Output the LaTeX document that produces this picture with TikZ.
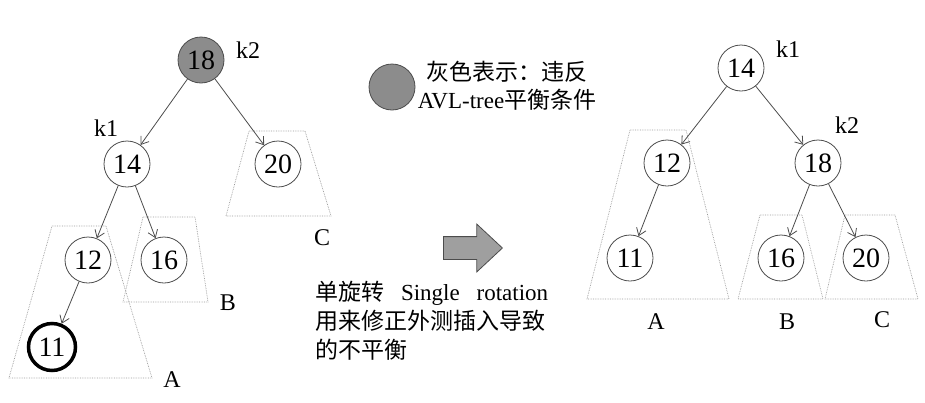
\documentclass[tikz,border=0pt]{standalone}
\usepackage{fontspec}
\setmainfont{Liberation Serif}
\newfontfamily\cjk{Noto Sans CJK SC}
\usepackage{tikz}
\usetikzlibrary{shapes.arrows,arrows.meta}
\usepackage{xcolor}
\definecolor{badgray}{gray}{0.55}
\definecolor{linegray}{gray}{0.3}
\definecolor{boxgray}{gray}{0.6}

\begin{document}
\begin{tikzpicture}
  [x=1pt,y=-1pt,
   key/.style={circle,draw=linegray,line width=0.8pt,minimum size=46pt,inner sep=0pt,
     font=\fontsize{28}{28}\selectfont},
   bad/.style={key,fill=badgray},
   newkey/.style={key,draw=black,line width=3.5pt,minimum size=47pt},
   lab/.style={inner sep=0pt,font=\fontsize{24}{24}\selectfont},
   link/.style={draw=linegray,line width=0.8pt,-{Straight Barb[length=7pt,width=10pt]}},
   subtree/.style={draw=boxgray,densely dotted,line width=0.7pt},
   bigarrow/.style={single arrow,draw=linegray,fill=gray!75,line width=0.8pt,
     minimum height=59pt,inner xsep=0pt,inner ysep=11pt,single arrow head extend=12.5pt,
     single arrow tip angle=86},
  ]
  \useasboundingbox (0,0) rectangle (925,402);

  % before the rotation
  \draw[subtree] (249,131) -- (305,131) -- (331,216) -- (226,216) -- cycle;
  \draw[subtree] (143,217) -- (195,217) -- (208,302) -- (123,302) -- cycle;
  \draw[subtree] (52,226) -- (106,226) -- (152,378) -- (9,378) -- cycle;

  \node[bad] (l18) at (201,60)  {18};
  \node[key] (l14) at (127,164) {14};
  \node[key] (l20) at (278,164) {20};
  \node[key] (l12) at (88,260)  {12};
  \node[key] (l16) at (164,260) {16};
  \node[newkey] (l11) at (52,347) {11};

  \path (l18) edge[link] (l14)
        (l18) edge[link] (l20)
        (l14) edge[link] (l12)
        (l14) edge[link] (l16)
        (l12) edge[link] (l11);

  \node[lab] (lk2) at (248,50)  {k2};
  \node[lab] (lk1) at (106,128) {k1};
  \node[lab] (lA) at (172,380) {A};
  \node[lab] (lB) at (228,303) {B};
  \node[lab] (lC) at (322,238) {C};

  % legend and caption
  \node[bad] (legend) at (392,87) {};
  \node[inner sep=0pt,align=center,font=\fontsize{23}{28}\selectfont] (legendtxt) at (507,86)
    {{\cjk 灰色表示：违反}\\AVL-tree{\cjk 平衡条件}};

  \node[bigarrow,anchor=west] (rot) at (443,248) {};
  \node[inner sep=0pt,align=left,anchor=west,font=\fontsize{23}{29}\selectfont] (caption) at (315,321)
    {\makebox[233pt]{{\cjk 单旋转}\hfill Single\hfill rotation}\\
     {\cjk 用来修正外测插入导致}\\
     {\cjk 的不平衡}};

  % after the rotation
  \draw[subtree] (630,130) -- (686,130) -- (729,299) -- (587,299) -- cycle;
  \draw[subtree] (760,215) -- (802,215) -- (823,299) -- (738,299) -- cycle;
  \draw[subtree] (845,215) -- (895,215) -- (918,299) -- (825,299) -- cycle;

  \node[key] (r14) at (741,68)  {14};
  \node[key] (r12) at (667,163) {12};
  \node[key] (r18) at (818,163) {18};
  \node[key] (r11) at (630,258) {11};
  \node[key] (r16) at (781,258) {16};
  \node[key] (r20) at (866,258) {20};

  \path (r14) edge[link] (r12)
        (r14) edge[link] (r18)
        (r12) edge[link] (r11)
        (r18) edge[link] (r16)
        (r18) edge[link] (r20);

  \node[lab] (rk1) at (788,49)  {k1};
  \node[lab] (rk2) at (847,125) {k2};
  \node[lab] (rA) at (656,322) {A};
  \node[lab] (rB) at (787,322) {B};
  \node[lab] (rC) at (882,320) {C};
\end{tikzpicture}
\end{document}
